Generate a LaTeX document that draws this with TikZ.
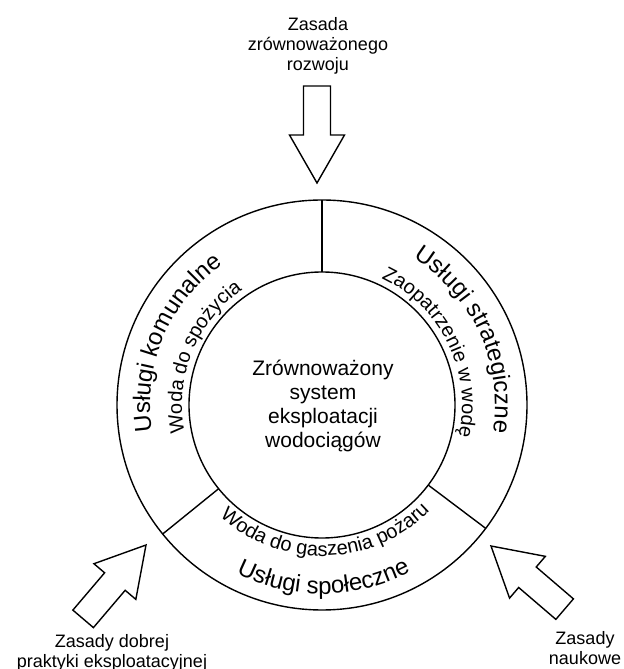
\documentclass[tikz,border=0pt]{standalone}
\usepackage{fontspec}
\setmainfont{Liberation Sans}
\usetikzlibrary{decorations.text}
\newcommand{\bandouter}{\fontsize{12}{14}\selectfont}
\newcommand{\bandinner}{\fontsize{10}{12}\selectfont}
\begin{document}
\begin{tikzpicture}[x=0.5pt,y=0.5pt,line width=0.7pt,
  principle/.style={align=center,font=\fontsize{9}{10}\selectfont},
  bandtext/.style={decorate,decoration={text along path,text align=center,text={#1}}},
  blockarrow/.pic={
    \draw[line join=miter]
      (0,0) -- (-48,27.5) -- (-48,13.5) -- (-97,13.5)
      -- (-97,-13.5) -- (-48,-13.5) -- (-48,-27.5) -- cycle;}]
  \useasboundingbox (0,0) rectangle (623,669);
  \coordinate (hub) at (322,264);
  \draw
    (hub) circle[radius=205]
    (hub) circle[radius=133];
  \begin{scope}[shift={(hub)}]
    \foreach \a in {90,219,323}
      \draw (\a:133) -- (\a:205);
    \path[bandtext={|\bandouter|Usługi komunalne}]
      (227:172) arc[start angle=227,end angle=87,radius=172];
    \path[bandtext={|\bandinner|Woda do spożycia}]
      (228:140) arc[start angle=228,end angle=88,radius=140];
    \path[bandtext={|\bandouter|Usługi strategiczne}]
      (94.5:173) arc[start angle=94.5,end angle=-45.5,radius=173];
    \path[bandtext={|\bandinner|Zaopatrzenie w wodę}]
      (106:140) arc[start angle=106,end angle=-54,radius=140];
    \path[bandtext={|\bandinner|Woda do gaszenia pożaru}]
      (216.5:151) arc[start angle=216.5,end angle=326.5,radius=151];
    \path[bandtext={|\bandouter|Usługi społeczne}]
      (230:189) arc[start angle=230,end angle=311,radius=189];
  \end{scope}
  \node[align=center,font=\fontsize{10.5}{12}\selectfont] (core) at (323,263)
    {Zrównoważony\\system\\eksploatacji\\wodociągów};
  \coordinate (tiptop) at (317,486);
  \coordinate (tipleft) at (146,124);
  \coordinate (tipright) at (491,123);
  \pic[rotate=-90] at (tiptop) {blockarrow};
  \pic[rotate=49.6] at (tipleft) {blockarrow};
  \pic[rotate=139.4] at (tipright) {blockarrow};
  \node[principle] (topnote) at (318,623) {Zasada\\zrównoważonego\\rozwoju};
  \node[principle] (leftnote) at (112,16) {Zasady dobrej\\praktyki eksploatacyjnej};
  \node[principle] (rightnote) at (585,21) {Zasady\\naukowe};
\end{tikzpicture}
\end{document}
